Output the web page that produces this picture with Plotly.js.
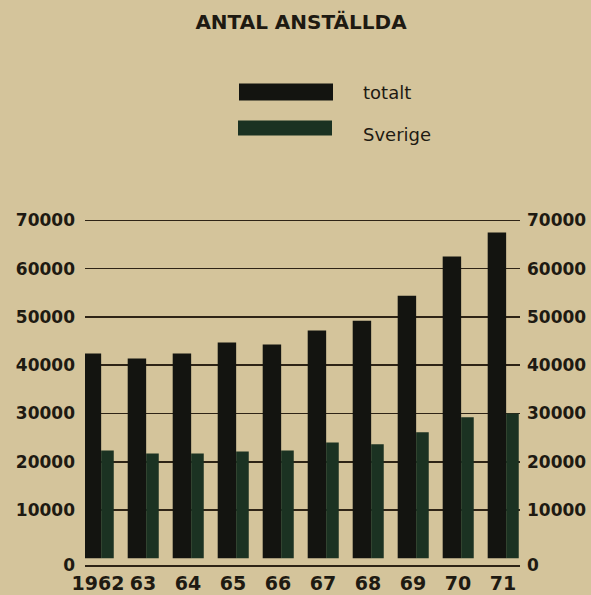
<!DOCTYPE html>
<html>
<head>
<meta charset="utf-8">
<script src="https://cdn.plot.ly/plotly-3.0.1.min.js"></script>
<style>html,body{margin:0;padding:0;background:#d4c49b;}#chart{width:591px;height:595px;}</style>
</head>
<body>
<div id="chart"></div>
<script>
// ---- data ----
const years = ["1962", "63", "64", "65", "66", "67", "68", "69", "70", "71"];
const totalt = [42400, 41400, 42400, 44700, 44300, 47200, 49200, 54400, 62500, 67500];
const sverige = [22300, 21700, 21700, 22100, 22300, 24000, 23600, 26100, 29200, 30000];
const seriesNames = ["totalt", "Sverige"];
const yTickValues = [0, 10000, 20000, 30000, 40000, 50000, 60000, 70000];
const yTickLabels = ["0", "10000", "20000", "30000", "40000", "50000", "60000", "70000"];
const chartTitle = "ANTAL ANSTÄLLDA";

// ---- style / layout geometry ----
const W = 591, H = 595;
const yBottom = -1400;          // drawn baseline of the original sits a little below zero
const yTop = 70500;             // small headroom so the top gridline is drawn
const pxTop70k = 220, pxBase = 565;
const scale = (pxBase - pxTop70k) / (70000 - yBottom);
const M = {l: 85, r: 71, t: pxTop70k - (yTop - 70000) * scale, b: H - pxBase};
const plotW = W - M.l - M.r, plotH = H - M.t - M.b;
const colBlack = "#131410", colGreen = "#1b3222", ink = "#1e1a12", bg = "#d4c49b", gridCol = "#2e2416";
const fontFam = "DejaVu Sans, sans-serif";

const tickvals = yTickValues.map(v => v === 0 ? yBottom : v);

const px2x = px => (px - M.l) / plotW;
const px2y = py => (H - M.b - py) / plotH;

const traces = [
  {type: "bar", name: seriesNames[0], x: years, y: totalt, marker: {color: colBlack},
   offset: -0.34, width: 0.41, showlegend: false, hoverinfo: "x+y"},
  {type: "bar", name: seriesNames[1], x: years, y: sverige, marker: {color: colGreen},
   offset: 0.07, width: 0.28, showlegend: false, hoverinfo: "x+y"},
  {type: "scatter", mode: "none", x: years, y: totalt, yaxis: "y2", showlegend: false, hoverinfo: "skip"}
];

const yCommon = {
  range: [yBottom, yTop], tickmode: "array", tickvals: tickvals, ticktext: yTickLabels,
  showgrid: true, gridcolor: gridCol, gridwidth: 1.6, zeroline: false, showline: false,
  ticks: "", tickfont: {family: fontFam, size: 17, color: ink, weight: "bold"}, fixedrange: true
};

const layout = {
  width: W, height: H,
  margin: {l: M.l, r: M.r, t: M.t, b: M.b, pad: 0},
  paper_bgcolor: bg, plot_bgcolor: bg,
  barmode: "overlay",
  title: {text: "<b>" + chartTitle + "</b>", font: {family: fontFam, size: 20, color: ink},
          xref: "paper", x: px2x(301), xanchor: "center", yref: "container", y: 1 - 22 / H, yanchor: "middle"},
  xaxis: {type: "category", range: [-0.289, 9.378], showgrid: false, zeroline: false,
          showline: true, linecolor: gridCol, linewidth: 1.6, ticks: "",
          ticklabelstandoff: 1,
          tickfont: {family: fontFam, size: 19, color: ink, weight: "bold"}, fixedrange: true},
  yaxis: Object.assign({}, yCommon, {side: "left", ticklabelstandoff: 9}),
  yaxis2: Object.assign({}, yCommon, {side: "right", overlaying: "y", showgrid: false, ticklabelstandoff: 6}),
  shapes: [
    {type: "rect", xref: "paper", yref: "paper", x0: px2x(239), x1: px2x(333), y0: px2y(100), y1: px2y(83),
     fillcolor: colBlack, line: {width: 0}},
    {type: "rect", xref: "paper", yref: "paper", x0: px2x(238), x1: px2x(332), y0: px2y(135), y1: px2y(120),
     fillcolor: colGreen, line: {width: 0}}
  ],
  annotations: [
    {xref: "paper", yref: "paper", x: px2x(361), y: px2y(92), xanchor: "left", yanchor: "middle",
     text: seriesNames[0], showarrow: false, font: {family: fontFam, size: 18, color: ink}},
    {xref: "paper", yref: "paper", x: px2x(361), y: px2y(134), xanchor: "left", yanchor: "middle",
     text: seriesNames[1], showarrow: false, font: {family: fontFam, size: 18, color: ink}}
  ]
};

Plotly.newPlot("chart", traces, layout, {displayModeBar: false, staticPlot: true});
</script>
</body>
</html>
